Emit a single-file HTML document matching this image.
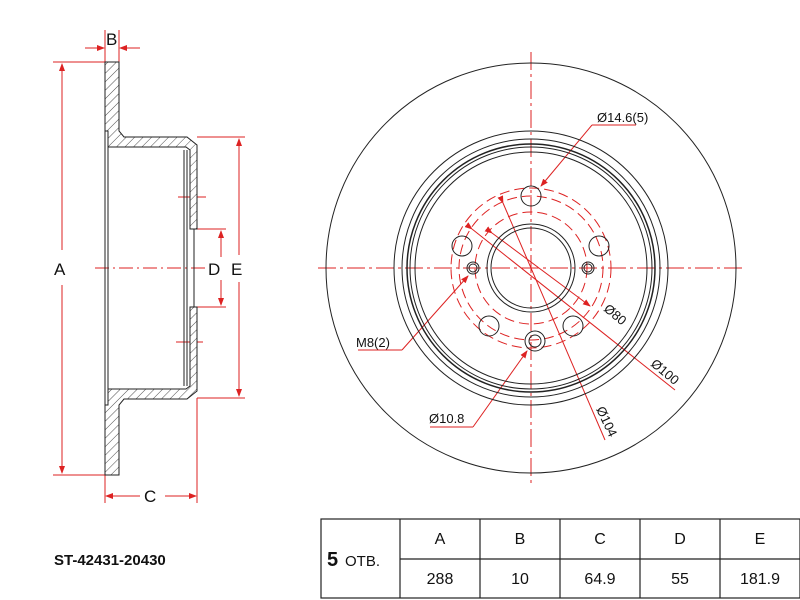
<!DOCTYPE html>
<html><head><meta charset="utf-8"><style>
html,body{margin:0;padding:0;background:#fff;}
svg{display:block;font-family:"Liberation Sans",Arial,sans-serif;}
</style></head><body>
<svg width="800" height="600" viewBox="0 0 800 600" xmlns="http://www.w3.org/2000/svg">
<defs>
<pattern id="h" patternUnits="userSpaceOnUse" width="6" height="6" patternTransform="rotate(45)">
<rect width="6" height="6" fill="#fff"/><line x1="0" y1="0" x2="0" y2="6" stroke="#222" stroke-width="0.8"/>
</pattern>
<marker id="ar" markerWidth="8" markerHeight="6" refX="7" refY="3" orient="auto" markerUnits="userSpaceOnUse"><path d="M0,0 L8,3 L0,6 z" fill="#d22"/></marker>
</defs>
<g stroke="#d22" stroke-width="1" fill="none">
<line x1="53" y1="62" x2="105" y2="62"/><line x1="53" y1="475" x2="105" y2="475"/>
<line x1="62" y1="250" x2="62" y2="64" marker-end="url(#ar)"/><line x1="62" y1="285" x2="62" y2="473" marker-end="url(#ar)"/>
<line x1="105" y1="30" x2="105" y2="62"/><line x1="119" y1="30" x2="119" y2="62"/>
<line x1="85" y1="48" x2="104" y2="48" marker-end="url(#ar)"/><line x1="140" y1="48" x2="120" y2="48" marker-end="url(#ar)"/>
<line x1="105" y1="475" x2="105" y2="503"/><line x1="197" y1="398" x2="197" y2="503"/>
<line x1="140" y1="496" x2="106" y2="496" marker-end="url(#ar)"/><line x1="165" y1="496" x2="196" y2="496" marker-end="url(#ar)"/>
<line x1="197" y1="137" x2="245" y2="137"/><line x1="197" y1="398" x2="245" y2="398"/>
<line x1="239" y1="255" x2="239" y2="139" marker-end="url(#ar)"/><line x1="239" y1="282" x2="239" y2="396" marker-end="url(#ar)"/>
<line x1="197" y1="229" x2="226" y2="229"/><line x1="197" y1="307" x2="226" y2="307"/>
<line x1="221" y1="257" x2="221" y2="231" marker-end="url(#ar)"/><line x1="221" y1="280" x2="221" y2="305" marker-end="url(#ar)"/>
<line x1="95" y1="268" x2="205" y2="268" stroke-dasharray="14,4,2,4"/>
<line x1="178" y1="197" x2="206" y2="197"/><line x1="176" y1="342" x2="203" y2="342"/>
</g>
<g stroke="#222" stroke-width="1">
<path d="M105,62 L119,62 L119,131 L124,137 L187,137 L197,145 L197,229 L190,229 L190,150 L186,147 L108,147 L108,131 L105,131 Z" fill="url(#h)"/>
<path d="M105,475 L119,475 L119,405 L124,399 L187,399 L197,391 L197,307 L190,307 L190,386 L186,389 L108,389 L108,405 L105,405 Z" fill="url(#h)"/>
<line x1="105" y1="62" x2="105" y2="475"/>
<line x1="108" y1="147" x2="108" y2="389"/>
<line x1="184" y1="150" x2="184" y2="386"/><line x1="187" y1="150" x2="187" y2="386"/>
<line x1="194" y1="229" x2="194" y2="307"/>
</g>
<g font-size="17" fill="#111">
<text x="106" y="45">B</text><text x="54" y="275">A</text><text x="208" y="275">D</text><text x="231" y="275">E</text><text x="144" y="502">C</text>
</g>
<g stroke="#d22" stroke-width="1" fill="none">
<line x1="531" y1="52" x2="531" y2="483" stroke-dasharray="18,4,3,4"/>
<line x1="318" y1="268" x2="745" y2="268" stroke-dasharray="18,4,3,4"/>
<circle cx="531" cy="268" r="56" stroke-dasharray="10,5"/>
<circle cx="531" cy="268" r="72" stroke-dasharray="10,5"/>
<circle cx="531" cy="268" r="80" stroke-dasharray="10,5"/>
<line x1="503" y1="203" x2="605" y2="440" marker-start="url(#ar)"/>
<line x1="472" y1="229" x2="675" y2="390" marker-start="url(#ar)"/>
<line x1="492" y1="233" x2="590" y2="306" marker-start="url(#ar)" marker-end="url(#ar)"/>
<line x1="592" y1="125" x2="541" y2="186" marker-end="url(#ar)"/><line x1="592" y1="125" x2="636" y2="125"/>
<line x1="402" y1="350" x2="468" y2="276" marker-end="url(#ar)"/><line x1="358" y1="350" x2="402" y2="350"/>
<line x1="473" y1="427" x2="527" y2="351" marker-end="url(#ar)"/><line x1="430" y1="427" x2="473" y2="427"/>
</g>
<g stroke="#222" fill="none" stroke-width="1">
<circle cx="531" cy="268" r="205"/>
<circle cx="531" cy="268" r="137"/>
<circle cx="531" cy="268" r="129"/>
<circle cx="531" cy="268" r="124" stroke-width="1.5"/>
<circle cx="531" cy="268" r="121"/>
<circle cx="531" cy="268" r="116"/>
<circle cx="531" cy="268" r="44"/>
<circle cx="531" cy="268" r="40"/>
<circle cx="531" cy="196" r="10"/>
<circle cx="462" cy="246" r="10"/>
<circle cx="599" cy="246" r="10"/>
<circle cx="489" cy="326" r="10"/>
<circle cx="573" cy="326" r="10"/>
<circle cx="535" cy="341" r="10"/><circle cx="535" cy="341" r="6"/>
<circle cx="473" cy="268" r="6"/><circle cx="473" cy="268" r="4"/>
<circle cx="588" cy="268" r="6"/><circle cx="588" cy="268" r="4"/>
</g>
<g font-size="13" fill="#111">
<text x="597" y="122">Ø14.6(5)</text>
<text x="356" y="347">M8(2)</text>
<text x="429" y="423">Ø10.8</text>
<text x="0" y="0" transform="translate(603,310) rotate(40)">Ø80</text>
<text x="0" y="0" transform="translate(650,365) rotate(40)">Ø100</text>
<text x="0" y="0" transform="translate(596,409) rotate(65)">Ø104</text>
</g>
<g stroke="#222" stroke-width="1.2" fill="none">
<rect x="321" y="519" width="479" height="79"/>
<line x1="400" y1="519" x2="400" y2="598"/><line x1="480" y1="519" x2="480" y2="598"/>
<line x1="560" y1="519" x2="560" y2="598"/><line x1="640" y1="519" x2="640" y2="598"/>
<line x1="720" y1="519" x2="720" y2="598"/><line x1="400" y1="559" x2="800" y2="559"/>
</g>
<g font-size="16" fill="#111" text-anchor="middle">
<text x="440" y="544">A</text><text x="520" y="544">B</text><text x="600" y="544">C</text><text x="680" y="544">D</text><text x="760" y="544">E</text>
<text x="440" y="584">288</text><text x="520" y="584">10</text><text x="600" y="584">64.9</text><text x="680" y="584">55</text><text x="760" y="584">181.9</text>
</g>
<text x="327" y="566" font-size="20" font-weight="bold" fill="#111">5</text>
<text x="345" y="566" font-size="15" fill="#111">OTB.</text>
<text x="54" y="565" font-size="15" font-weight="bold" fill="#111">ST-42431-20430</text>
</svg>
</body></html>
